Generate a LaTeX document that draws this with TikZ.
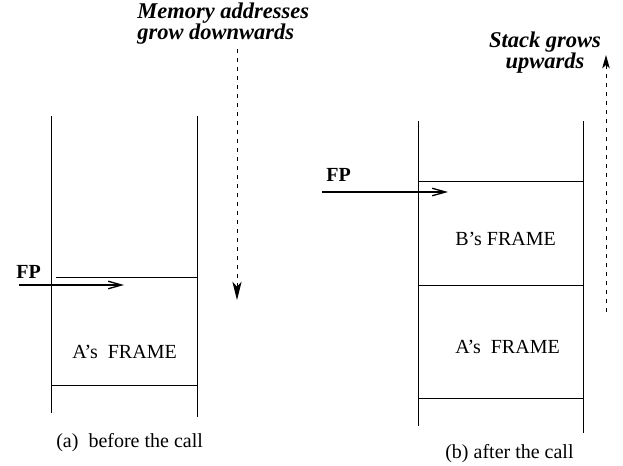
\documentclass[tikz,border=0pt]{standalone}
\usepackage{fontspec}
\setmainfont{Liberation Serif}
\usetikzlibrary{arrows.meta}

\newcommand{\hdrfont}{\fontsize{13.5}{12.4}\selectfont\lineskiplimit=-20pt\relax\bfseries\itshape}

\tikzset{
  wall/.style={line width=0.6pt},
  fparrow/.style={line width=0.8pt,-{Straight Barb[length=8pt,width=4.5pt]}},
  growarrow/.style={line width=0.6pt,dash pattern=on 2.4pt off 3pt},
  lbl/.style={inner sep=0pt,anchor=base west,font=\fontsize{12}{14}\selectfont},
  fplbl/.style={inner sep=0pt,anchor=base west,font=\fontsize{12}{14}\selectfont\bfseries},
  hdr/.style={inner sep=0pt,font=\hdrfont},
}

\begin{document}
\begin{tikzpicture}[x=0.6pt,y=-0.6pt]
  \useasboundingbox (0,0) rectangle (623,466);

  % (a) before the call
  \draw[wall] (51.5,116) -- (51.5,413);
  \draw[wall] (197,116) -- (197,417);
  \draw[wall] (56,277) -- (197,277);
  \draw[wall] (51.5,385.5) -- (197,385.5);
  \node[fplbl] (fpa) at (16,278) {FP};
  \coordinate (fpafrom) at (19,285);
  \coordinate (fpato) at (124,285);
  \draw[fparrow] (fpafrom) -- (fpato);
  \node[lbl] (framea) at (72,358) {A's\ \ FRAME};
  \node[lbl] (capa) at (56,447) {(a)\ \ before the call};

  \node[hdr,align=left,anchor=north west] (memtext) at (137,3) {Memory addresses\\grow downwards};
  \coordinate (memfrom) at (237,49);
  \coordinate (memto) at (237,300);
  \draw[growarrow,-{Stealth[length=11pt,width=5.5pt,inset=3pt]}] (memfrom) -- (memto);

  % (b) after the call
  \draw[wall] (418,121) -- (418,426);
  \draw[wall] (583,121) -- (583,433);
  \draw[wall] (419,181) -- (583,181);
  \draw[wall] (418,285.5) -- (583,285.5);
  \draw[wall] (418,398) -- (583,398);
  \node[fplbl] (fpb) at (326,181) {FP};
  \coordinate (fpbfrom) at (322,192);
  \coordinate (fpbto) at (448,192);
  \draw[fparrow] (fpbfrom) -- (fpbto);
  \node[lbl] (frameb) at (455,245) {B's FRAME};
  \node[lbl] (framea2) at (455,353) {A's\ \ FRAME};
  \node[lbl] (capb) at (445,458) {(b) after the call};

  \node[hdr,align=center,anchor=north] (stktext) at (545,32) {Stack grows\\upwards};
  \coordinate (stkfrom) at (606,312);
  \coordinate (stkto) at (606,55);
  \draw[growarrow,-{Stealth[length=8pt,width=4.5pt,inset=2pt]}] (stkfrom) -- (stkto);
\end{tikzpicture}
\end{document}
